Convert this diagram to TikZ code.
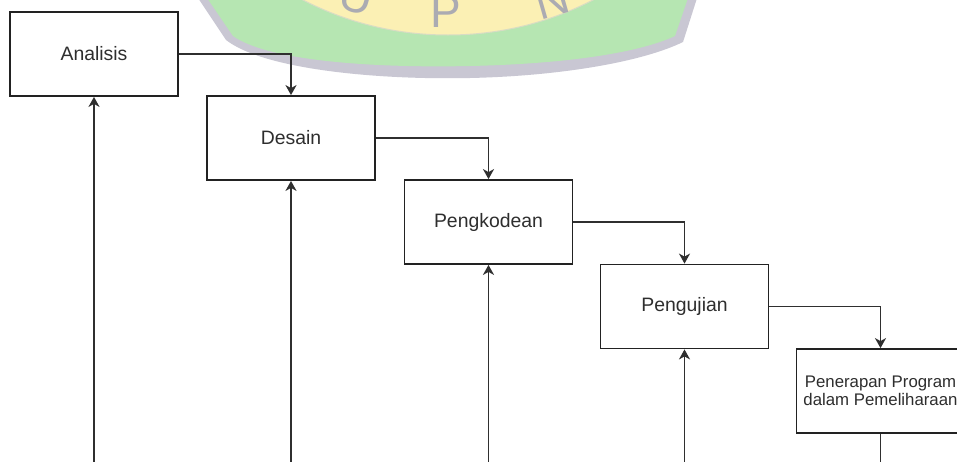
\documentclass[tikz,border=0pt]{standalone}
\usepackage{fontspec}
\setmainfont{Liberation Sans}
\usetikzlibrary{arrows.meta}

\definecolor{boxline}{HTML}{222222}
\definecolor{connline}{HTML}{2F2F2F}
\definecolor{labeltext}{HTML}{2E2E2E}
\definecolor{wmgrey}{HTML}{C9C7D3}
\definecolor{wmgreen}{HTML}{B6E6B2}
\definecolor{wmyellow}{HTML}{FBF0B4}
\definecolor{wmedge}{HTML}{D8DCC4}
\definecolor{wmletter}{HTML}{ABABB2}

\tikzset{
  stagebox/.style={draw=boxline, line width=1.8pt, fill=white,
    minimum width=168pt, minimum height=84pt, inner sep=0pt,
    text=labeltext, font=\fontsize{19.4}{22}\selectfont},
  smallstage/.style={stagebox, align=center,
    font=\fontsize{16.8}{18}\selectfont},
  flow/.style={draw=connline, line width=1.9pt,
    -{Stealth[length=10pt,width=11pt,inset=3pt]}},
  plainflow/.style={draw=connline, line width=1.9pt},
  wmglyph/.style={text=wmletter, inner sep=0pt, anchor=base,
    font=\fontsize{46}{46}\selectfont}
}

\begin{document}
\begin{tikzpicture}[x=1pt, y=-1pt]
  \useasboundingbox (0,0) rectangle (957,461);
  \clip (0,0) rectangle (957,461);
  \fill[white] (0,0) rectangle (957,461);

  % faded emblem in the background
  \fill[wmgrey] (196,-5) -- (226,40) .. controls (265,70) and (380,80) .. (470,78)
    .. controls (560,76) and (642,62) .. (683,42) -- (698,-5) -- cycle;
  \fill[wmgreen] (205,-5) -- (233,36) .. controls (270,62) and (380,68) .. (470,66)
    .. controls (560,64) and (636,54) .. (675,36) -- (689,-5) -- cycle;
  \fill[wmyellow, draw=wmedge, line width=1pt] (448,-282) circle (317pt);
  \node[wmglyph, rotate=-16] (wmU) at (352,12) {U};
  \node[wmglyph] (wmP) at (446,27) {P};
  \node[wmglyph, rotate=16] (wmN) at (556,16) {N};

  % process stages
  \node[stagebox] (analisis)   at (94,54)     {Analisis};
  \node[stagebox] (desain)     at (291,138)   {Desain};
  \node[stagebox] (pengkodean) at (488.5,222) {Pengkodean};
  \node[stagebox] (pengujian)  at (684.5,306.5) {Pengujian};
  \node[smallstage] (penerapan) at (880.5,391)
    {Penerapan Program\\dalam Pemeliharaan};

  % forward flow
  \draw[flow] (analisis.east)   -| (desain.north);
  \draw[flow] (desain.east)     -| (pengkodean.north);
  \draw[flow] (pengkodean.east) -| (pengujian.north);
  \draw[flow] (pengujian.east)  -| (penerapan.north);

  % feedback lines coming up from below
  \coordinate (below) at (0,480);
  \coordinate (fbA) at (analisis.south |- below);
  \coordinate (fbB) at (desain.south |- below);
  \coordinate (fbC) at (pengkodean.south |- below);
  \coordinate (fbD) at (pengujian.south |- below);
  \coordinate (fbE) at (penerapan.south |- below);
  \draw[flow] (fbA) -- (analisis.south);
  \draw[flow] (fbB) -- (desain.south);
  \draw[flow] (fbC) -- (pengkodean.south);
  \draw[flow] (fbD) -- (pengujian.south);
  \draw[plainflow] (penerapan.south) -- (fbE);
\end{tikzpicture}
\end{document}
